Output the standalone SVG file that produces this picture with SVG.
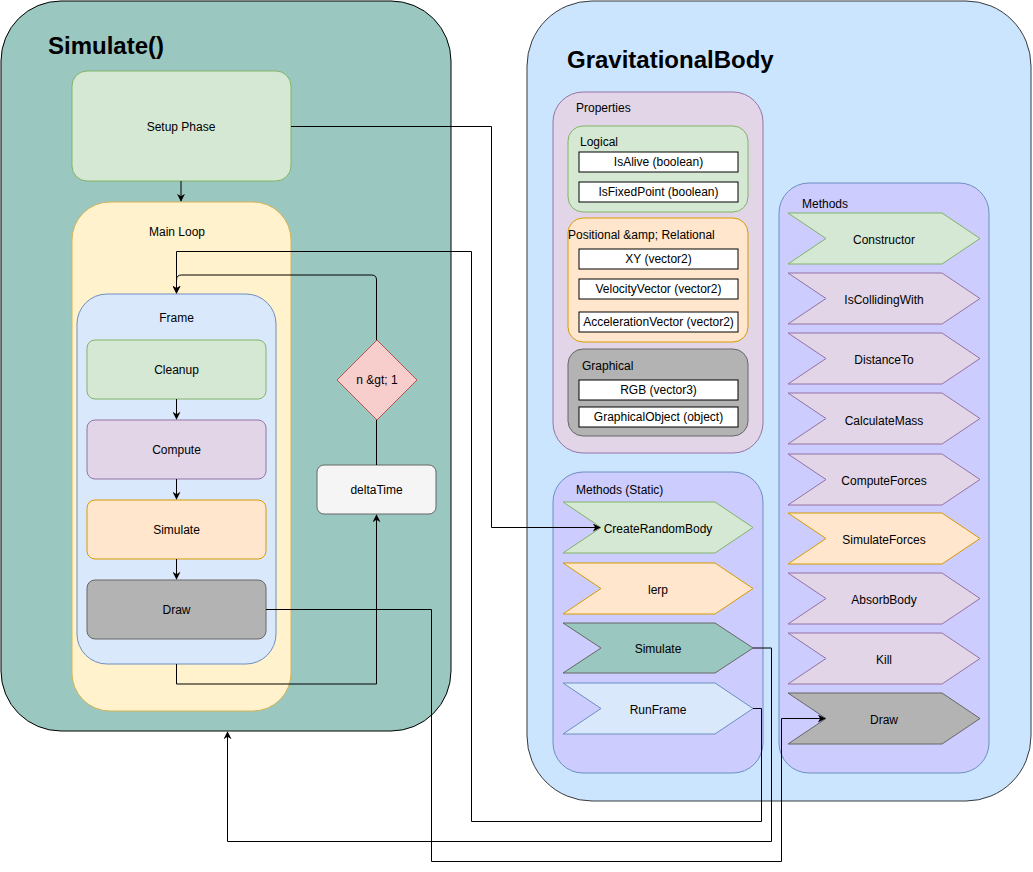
<svg xmlns="http://www.w3.org/2000/svg" width="1033" height="872" viewBox="0 0 1033 872">
<defs>
<style>
text{font-family:"Liberation Sans",Arial,sans-serif;font-size:12px;fill:#000}
.c{text-anchor:middle}
.title{font-size:24px;font-weight:bold}
.green{fill:#d5e8d4;stroke:#82b366}
.purple{fill:#e1d5e7;stroke:#9673a6}
.orange{fill:#ffe6cc;stroke:#d79b00}
.grey{fill:#b3b3b3;stroke:#666666}
.teal{fill:#9ac7bf;stroke:#666666}
.blue{fill:#dae8fc;stroke:#6c8ebf}
.yellow{fill:#fff2cc;stroke:#d6b656}
.lav{fill:#ccccff;stroke:#6c8ebf}
.prop{fill:#ffffff;stroke:#000000}
.conn path{fill:none;stroke:#000;stroke-width:1}
</style>
<marker id="arr" viewBox="0 0 10 10" refX="9" refY="5" markerWidth="8" markerHeight="8" markerUnits="userSpaceOnUse" orient="auto">
<path d="M0,0 L10,5 L0,10 L3,5 Z" fill="#000"/>
</marker>
</defs>
<rect width="1033" height="872" fill="#ffffff"/>

<g id="simulate-container">
<rect x="1" y="1" width="450" height="730" rx="60" ry="60" fill="#9ac7bf" stroke="#000"/>
<text x="48" y="54" class="title">Simulate()</text>
</g>
<g id="setup-phase">
<rect x="72" y="71" width="219" height="110" rx="15" class="green"/>
<text x="181" y="131" class="c">Setup Phase</text>
</g>
<g id="main-loop">
<rect x="72" y="202" width="219" height="509" rx="38" class="yellow"/>
<text x="177" y="236" class="c">Main Loop</text>
</g>
<g id="frame">
<rect x="77" y="294" width="199" height="370" rx="30" class="blue"/>
<text x="176.5" y="322" class="c">Frame</text>
</g>
<g id="cleanup">
<rect x="87" y="340" width="179" height="59" rx="8" class="green"/>
<text x="176.5" y="374" class="c">Cleanup</text>
</g>
<g id="compute">
<rect x="87" y="420" width="179" height="59" rx="8" class="purple"/>
<text x="176.5" y="454" class="c">Compute</text>
</g>
<g id="simulate-step">
<rect x="87" y="500" width="179" height="59" rx="8" class="orange"/>
<text x="176.5" y="534" class="c">Simulate</text>
</g>
<g id="draw-step">
<rect x="87" y="580" width="179" height="59" rx="8" class="grey"/>
<text x="176.5" y="614" class="c">Draw</text>
</g>
<g id="condition">
<path d="M377,340 L417,380 L377,420 L337,380 Z" fill="#f8cecc" stroke="#b85450"/>
<text x="377" y="384" class="c">n &amp;gt; 1</text>
</g>
<g id="deltatime">
<rect x="317" y="465" width="119" height="49" rx="7" fill="#f5f5f5" stroke="#666666"/>
<text x="376.5" y="494" class="c">deltaTime</text>
</g>

<g id="gravitationalbody">
<rect x="527" y="1" width="504" height="800" rx="65" ry="65" fill="#cce5ff" stroke="#36393d"/>
<text x="567" y="68" class="title">GravitationalBody</text>
</g>
<g id="properties">
<rect x="553" y="92" width="210" height="361" rx="30" class="purple"/>
<text x="576" y="112">Properties</text>
</g>
<g id="logical">
<rect x="568" y="126" width="180" height="86" rx="15" class="green"/>
<text x="580" y="146">Logical</text>
<rect x="579" y="152" width="159" height="20" class="prop"/>
<text x="658.5" y="166" class="c">IsAlive (boolean)</text>
<rect x="579" y="182" width="159" height="20" class="prop"/>
<text x="658.5" y="196" class="c">IsFixedPoint (boolean)</text>
</g>
<g id="positional">
<rect x="568" y="218" width="180" height="124" rx="15" class="orange"/>
<text x="568" y="239">Positional &amp;amp; Relational</text>
<rect x="579" y="249" width="159" height="20" class="prop"/>
<text x="658.5" y="263" class="c">XY (vector2)</text>
<rect x="579" y="279" width="159" height="20" class="prop"/>
<text x="658.5" y="293" class="c">VelocityVector (vector2)</text>
<rect x="579" y="312" width="159" height="20" class="prop"/>
<text x="658.5" y="326" class="c">AccelerationVector (vector2)</text>
</g>
<g id="graphical">
<rect x="568" y="349" width="180" height="87" rx="15" class="grey"/>
<text x="582" y="370">Graphical</text>
<rect x="579" y="380" width="159" height="20" class="prop"/>
<text x="658.5" y="394" class="c">RGB (vector3)</text>
<rect x="579" y="407" width="159" height="20" class="prop"/>
<text x="658.5" y="421" class="c">GraphicalObject (object)</text>
</g>

<g id="methods-static">
<rect x="553" y="472" width="210" height="301" rx="30" class="lav"/>
<text x="576" y="494">Methods (Static)</text>
</g>
<g id="m-createrandombody">
<path d="M563,502 L715,502 L753,527.5 L715,553 L563,553 L601,527.5 Z" class="green"/>
<text x="658" y="533" class="c">CreateRandomBody</text>
</g>
<g id="m-lerp">
<path d="M563,563 L715,563 L753,588.5 L715,614 L563,614 L601,588.5 Z" class="orange"/>
<text x="658" y="594" class="c">lerp</text>
</g>
<g id="m-simulate">
<path d="M563,623 L715,623 L753,648 L715,673 L563,673 L601,648 Z" class="teal"/>
<text x="658" y="653" class="c">Simulate</text>
</g>
<g id="m-runframe">
<path d="M563,683 L715,683 L753,708.5 L715,734 L563,734 L601,708.5 Z" class="blue"/>
<text x="658" y="714" class="c">RunFrame</text>
</g>

<g id="methods">
<rect x="779" y="183" width="210" height="590" rx="30" class="lav"/>
<text x="802" y="208">Methods</text>
</g>
<g id="m-constructor">
<path d="M788,213 L942,213 L980,238.5 L942,264 L788,264 L826,238.5 Z" class="green"/>
<text x="884" y="244" class="c">Constructor</text>
</g>
<g id="m-iscollidingwith">
<path d="M788,273 L942,273 L980,298.5 L942,324 L788,324 L826,298.5 Z" class="purple"/>
<text x="884" y="304" class="c">IsCollidingWith</text>
</g>
<g id="m-distanceto">
<path d="M788,333 L942,333 L980,358.5 L942,384 L788,384 L826,358.5 Z" class="purple"/>
<text x="884" y="364" class="c">DistanceTo</text>
</g>
<g id="m-calculatemass">
<path d="M788,393 L942,393 L980,418.5 L942,444 L788,444 L826,418.5 Z" class="purple"/>
<text x="884" y="425" class="c">CalculateMass</text>
</g>
<g id="m-computeforces">
<path d="M788,454 L942,454 L980,479.5 L942,505 L788,505 L826,479.5 Z" class="purple"/>
<text x="884" y="485" class="c">ComputeForces</text>
</g>
<g id="m-simulateforces">
<path d="M788,513 L942,513 L980,538.5 L942,564 L788,564 L826,538.5 Z" class="orange"/>
<text x="884" y="544" class="c">SimulateForces</text>
</g>
<g id="m-absorbbody">
<path d="M788,573 L942,573 L980,598.5 L942,624 L788,624 L826,598.5 Z" class="purple"/>
<text x="884" y="604" class="c">AbsorbBody</text>
</g>
<g id="m-kill">
<path d="M788,633 L942,633 L980,658.5 L942,684 L788,684 L826,658.5 Z" class="purple"/>
<text x="884" y="664" class="c">Kill</text>
</g>
<g id="m-draw">
<path d="M788,693 L942,693 L980,718.5 L942,744 L788,744 L826,718.5 Z" class="grey"/>
<text x="884" y="724" class="c">Draw</text>
</g>

<g id="connectors" class="conn">
<path d="M181,181 L181,201" marker-end="url(#arr)"/>
<path d="M176.5,399 L176.5,419" marker-end="url(#arr)"/>
<path d="M176.5,479 L176.5,499" marker-end="url(#arr)"/>
<path d="M176.5,559 L176.5,579" marker-end="url(#arr)"/>
<path d="M176.5,664 L176.5,684 L376.5,684 L376.5,515" marker-end="url(#arr)"/>
<path d="M376.5,465 L376.5,420"/>
<path d="M376.5,340 L376.5,280 Q376.5,275 371.5,275 L181.5,275 Q176.5,275 176.5,280 L176.5,293" marker-end="url(#arr)"/>
<path d="M753,708.5 L761.5,708.5 L761.5,821.5 L471.5,821.5 L471.5,251.5 L176.5,251.5 L176.5,293" marker-end="url(#arr)"/>
<path d="M291,126.5 L491.5,126.5 L491.5,527.5 L600,527.5" marker-end="url(#arr)"/>
<path d="M753,648 L771.5,648 L771.5,841.5 L227.5,841.5 L227.5,732" marker-end="url(#arr)"/>
<path d="M266,609.5 L431.5,609.5 L431.5,861.5 L781.5,861.5 L781.5,718.5 L825,718.5" marker-end="url(#arr)"/>
</g>
</svg>
